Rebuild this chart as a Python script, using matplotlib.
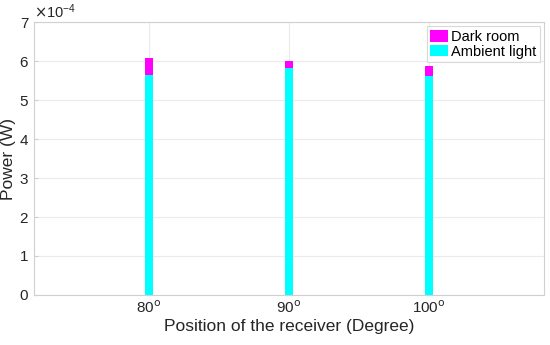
import matplotlib.pyplot as plt

plt.rcParams['font.family'] = ['Liberation Sans', 'DejaVu Sans']

positions = [80, 90, 100]
tick_labels = ['80$^\\mathrm{o}$', '90$^\\mathrm{o}$', '100$^\\mathrm{o}$']
dark_room = [6.07e-4, 5.99e-4, 5.88e-4]
ambient_light = [5.64e-4, 5.81e-4, 5.61e-4]

fig = plt.figure(figsize=(5.5, 3.45), dpi=100)
ax = fig.add_axes([0.062, 0.145, 0.927, 0.791])

ax.bar(positions, dark_room, width=0.57, color='#ff00ff', label='Dark room', zorder=3)
ax.bar(positions, ambient_light, width=0.57, color='#00ffff', label='Ambient light', zorder=3)

ax.set_xlim(71.8, 108.2)
ax.set_ylim(0, 7e-4)
ax.set_xticks(positions)
ax.set_xticklabels(tick_labels)
ax.set_yticks([i * 1e-4 for i in range(8)])
ax.ticklabel_format(axis='y', style='sci', scilimits=(-4, -4), useMathText=True)
ax.yaxis.get_offset_text().set_fontsize(10.5)
ax.yaxis.get_offset_text().set_color('#262626')

ax.grid(True, color='#ebebeb', linewidth=0.8, zorder=0)
for s in ax.spines.values():
    s.set_color('#d0d0d0')
ax.tick_params(direction='in', length=3, colors='#d0d0d0', labelcolor='#262626', labelsize=11)

ax.set_xlabel('Position of the receiver (Degree)', fontsize=12.5, color='#262626', labelpad=2)
ax.set_ylabel('Power (W)', fontsize=12.5, color='#262626', labelpad=2)

leg = ax.legend(loc='upper right', fontsize=10.5, frameon=True, fancybox=False,
                handlelength=1.2, handleheight=0.8, handletextpad=0.2,
                borderpad=0.25, labelspacing=0.05, borderaxespad=0.3)
leg.get_frame().set_edgecolor('#d0d0d0')
leg.get_frame().set_linewidth(0.8)

fig.savefig('out.png', dpi=100)
